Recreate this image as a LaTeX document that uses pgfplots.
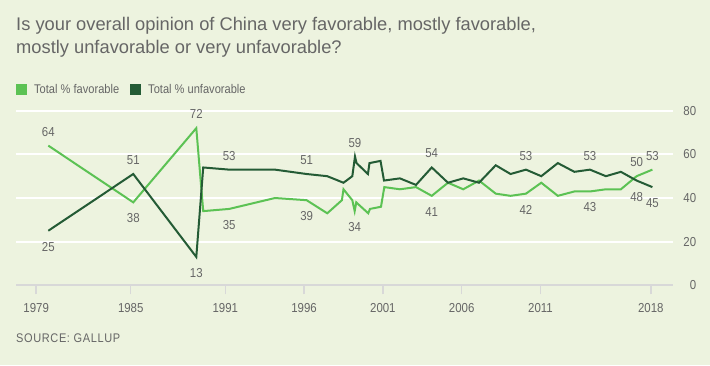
\documentclass[border=0pt]{standalone}
\usepackage{fontspec}
\setmainfont{Liberation Sans}
\newfontfamily\narrow[FakeStretch=0.88]{Liberation Sans}
\newfontfamily\narrowsp[FakeStretch=0.88, LetterSpace=5]{Liberation Sans}
\usepackage{pgfplots}
\pgfplotsset{compat=1.18}
\definecolor{bg}{HTML}{EDF3DF}
\definecolor{fav}{HTML}{5CC254}
\definecolor{unfav}{HTML}{245B35}
\definecolor{txt}{HTML}{666666}
\definecolor{axgray}{HTML}{D8D8D8}
\begin{document}
\begin{tikzpicture}[x=1bp,y=1bp]
\fill[bg] (0,0) rectangle (710,-365);
\node[anchor=base west, inner sep=0, text=txt, font=\fontsize{18.3bp}{22bp}\selectfont] at (16,-30.7) {Is your overall opinion of China very favorable, mostly favorable,};
\node[anchor=base west, inner sep=0, text=txt, font=\fontsize{18.3bp}{22bp}\selectfont] at (16,-53.3) {mostly unfavorable or very unfavorable?};
\node[anchor=base west, inner sep=0, text=txt, font=\narrowsp\fontsize{12.5bp}{15bp}\selectfont] at (16,-342.3) {SOURCE: GALLUP};
\begin{axis}[
  at={(16bp,-285.3bp)}, anchor=south west,
  scale only axis, width=656.7bp, height=174.6bp,
  xmin=1977.72, xmax=2019.39, ymin=0, ymax=80,
  axis x line*=bottom, axis y line*=right,
  x axis line style={axgray, line width=2bp},
  y axis line style={draw=none},
  xtick={1979,1985,1991,1996,2001,2006,2011,2018},
  xticklabels={1979,1985,1991,1996,2001,2006,2011,2018},
  ytick={0,20,40,60,80},
  ymajorgrids, grid style={white, line width=2bp},
  xtick align=outside, major tick length=9bp,
  xtick style={axgray, line width=1.5bp},
  ytick style={draw=none},
  ticklabel style={font=\narrow\fontsize{13bp}{15bp}\selectfont, text=txt},
  xticklabel style={yshift=-6bp},
  yticklabel style={anchor=east, xshift=27bp},
  /pgf/number format/assume math mode=true,
  clip=false,
  legend columns=2,
  legend style={at={(0,1.164)}, anchor=north west, draw=none, fill=none, inner sep=0pt,
    font=\narrow\fontsize{12.6bp}{15bp}\selectfont, text=txt,
    /tikz/every odd column/.append style={column sep=5bp},
    /tikz/every even column/.append style={column sep=9bp}},
  legend image code/.code={\fill[#1] (0bp,-4.5bp) rectangle (9bp,4.5bp);},
]
\addplot[fav, line width=2bp] coordinates {
(1979.77,64) (1985.16,38) (1989.16,72) (1989.6,34) (1991.25,35) (1994.15,40)
(1996.16,39) (1997.47,33) (1998.4,39) (1998.5,44) (1999.06,39) (1999.21,34)
(1999.31,38) (2000.07,33) (2000.18,35) (2000.88,36) (2001.09,45) (2002.08,44)
(2003.1,45) (2004.1,41) (2005.13,47) (2006.1,44) (2007.1,48) (2008.16,42)
(2009.1,41) (2010.08,42) (2011.05,47) (2012.1,41) (2013.15,43) (2014.14,43)
(2015.15,44) (2016.1,44) (2017.1,50) (2018.1,53)};
\addlegendentry{Total \% favorable}
\addplot[unfav, line width=2bp] coordinates {
(1979.77,25) (1985.16,51) (1989.16,13) (1989.6,54) (1991.25,53) (1994.15,53)
(1996.16,51) (1997.47,50) (1998.5,47) (1999.06,50) (1999.23,59) (1999.33,56)
(2000.05,51) (2000.15,56) (2000.85,57) (2001.07,48) (2002.08,49) (2003.1,46)
(2004.1,54) (2005.13,47) (2006.1,49) (2007.1,47) (2008.16,55) (2009.1,51)
(2010.08,53) (2011.05,50) (2012.1,56) (2013.15,52) (2014.14,53) (2015.15,50)
(2016.1,52) (2017.1,48) (2018.1,45)};
\addlegendentry{Total \% unfavorable}
% labels above
\addplot[draw=none, forget plot, nodes near coords, point meta=y,
  every node near coord/.append style={anchor=center, yshift=14bp, text=txt, font=\narrow\fontsize{13bp}{15bp}\selectfont}]
coordinates {(1985.16,51) (1991.25,53) (1996.16,51) (1999.23,59) (2004.1,54) (2010.08,53) (2014.14,53)
(1979.77,64) (1989.16,72) (2017.1,50) (2018.1,53)};
% labels below
\addplot[draw=none, forget plot, nodes near coords, point meta=y,
  every node near coord/.append style={anchor=center, yshift=-16bp, text=txt, font=\narrow\fontsize{13bp}{15bp}\selectfont}]
coordinates {(1979.77,25) (1989.16,13) (2017.1,48) (2018.1,45)
(1985.16,38) (1991.25,35) (1996.16,39) (1999.21,34) (2004.1,41) (2010.08,42) (2014.14,43)};
\end{axis}
\end{tikzpicture}
\end{document}
